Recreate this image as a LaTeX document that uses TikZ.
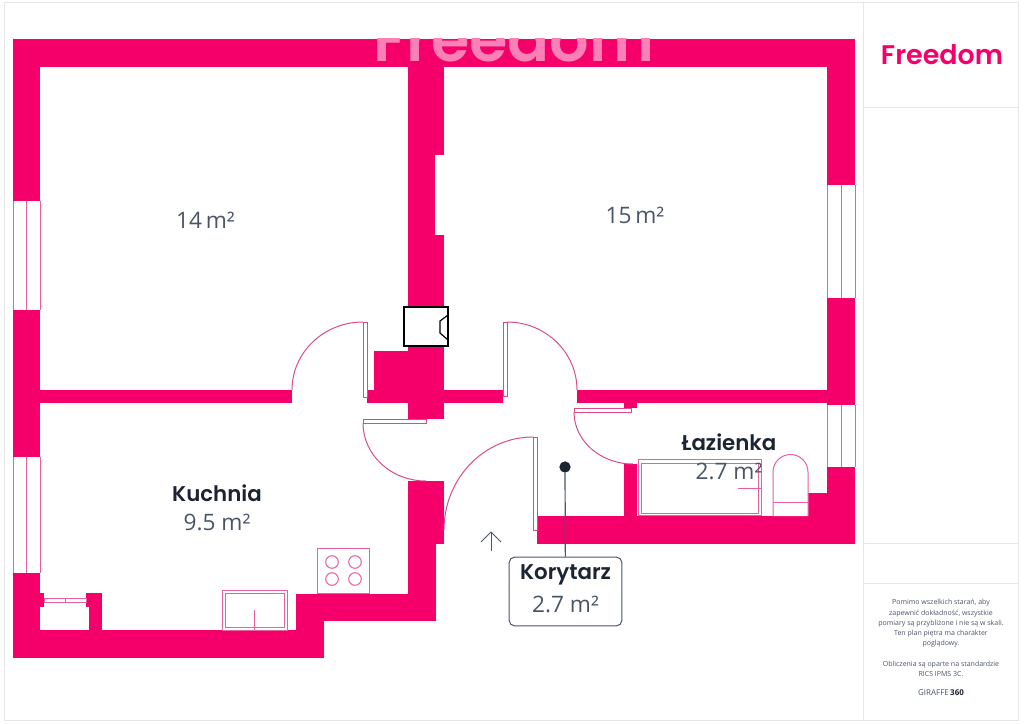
\documentclass[tikz,border=0pt]{standalone}
\usepackage{fontspec}
\setmainfont{Open Sans}
\newfontfamily\labelfont{Poppins}[BoldFont={Poppins SemiBold}]
\definecolor{wallpink}{HTML}{F5006A}
\definecolor{doorpink}{HTML}{D94C8C}
\definecolor{winpink}{HTML}{E8609F}
\definecolor{inkdark}{HTML}{1B2432}
\definecolor{inkgrey}{HTML}{4A5568}
\definecolor{framegrey}{HTML}{E6E6E6}
\tikzset{
    wall/.style={fill=wallpink},
    fixture/.style={draw=winpink, line width=0.75pt, fill=white},
    door/.style={draw=doorpink, line width=0.75pt},
    roomname/.style={font=\labelfont\bfseries\fontsize{16}{19}\selectfont, text=inkdark},
    roomarea/.style={font=\fontsize{17}{20}\selectfont, text=inkgrey},
    smallnote/.style={align=center, text=inkgrey, font=\fontsize{5.25}{7.7}\selectfont},
}
\begin{document}
\begin{tikzpicture}[x=0.75pt,y=0.75pt,yscale=-1]

    \useasboundingbox (0,0) rectangle (1024,724);
    \draw [framegrey, line width=0.75pt] (4,3) rectangle (1018,720);
    \draw [framegrey, line width=0.75pt] (863,3) -- (863,720);
    \draw [framegrey, line width=0.75pt] (863,107) -- (1018,107);
    \draw [framegrey, line width=0.75pt] (863,543) -- (1018,543);
    \draw [framegrey, line width=0.75pt] (863,583) -- (1018,583);

    \fill [wall] (13,39) rectangle (855,67);
    \fill [wall] (13,39) rectangle (40,201);
    \fill [wall] (13,310) rectangle (40,457);
    \fill [wall] (13,573) rectangle (40,658);
    \fill [wall] (13,630) rectangle (324,658);
    \fill [wall] (40,593) rectangle (44,607);
    \fill [wall] (86,593) rectangle (89,607);
    \fill [wall] (89,593) rectangle (102,630);
    \fill [wall] (296,594) rectangle (436,621);
    \fill [wall] (296,594) rectangle (324,658);
    \fill [wall] (408,544) rectangle (436,621);
    \fill [wall] (408,481) rectangle (444,544);
    \fill [wall] (408,67) rectangle (444,155);
    \fill [wall] (408,155) rectangle (435,235);
    \fill [wall] (408,235) rectangle (444,419);
    \fill [wall] (374,351) rectangle (408,403);
    \fill [wall] (40,390) rectangle (292,403);
    \fill [wall] (367,390) rectangle (408,403);
    \fill [wall] (444,390) rectangle (503,403);
    \fill [wall] (577,390) rectangle (855,403);
    \fill [wall] (624,403) rectangle (637,408);
    \fill [wall] (624,464) rectangle (637,516);
    \fill [wall] (537,516) rectangle (855,544);
    \fill [wall] (807,493) rectangle (855,516);
    \fill [wall] (827,67) rectangle (855,185);
    \fill [wall] (827,298) rectangle (855,405);
    \fill [wall] (827,467) rectangle (855,544);

    \begin{scope}
        \clip (13,39) rectangle (855,67);
        \draw (514,62) node [anchor=base, text=white!50!wallpink, font=\labelfont\bfseries\fontsize{46.5}{55}\selectfont] (watermark) {Freedom};
    \end{scope}

    \draw [fixture] (13,201) -- (13,310);
    \draw [fixture] (26.5,201) -- (26.5,310);
    \draw [fixture] (40,201) -- (40,310);
    \draw [fixture] (13,457) -- (13,573);
    \draw [fixture] (26.5,457) -- (26.5,573);
    \draw [fixture] (40,457) -- (40,573);
    \draw [fixture] (827,185) -- (827,298);
    \draw [fixture] (841,185) -- (841,298);
    \draw [fixture] (855,185) -- (855,298);
    \draw [fixture] (827,405) -- (827,467);
    \draw [fixture] (841,405) -- (841,467);
    \draw [fixture] (855,405) -- (855,467);
    \draw [fixture] (44,598) rectangle (86,602);
    \draw [fixture] (65,598) -- (65,602);

    \draw [fixture] (222,590) rectangle (287,630);
    \draw [fixture] (225,593) rectangle (284,627);
    \draw [fixture] (254.5,610) -- (254.5,630);
    \draw [fixture] (317,548) rectangle (369,593);
    \draw [fixture] (332,562) circle (6.3);
    \draw [fixture] (355,562) circle (6.3);
    \draw [fixture] (332,579) circle (6.3);
    \draw [fixture] (355,579) circle (6.3);

    \draw [fixture] (638,459) rectangle (761,515);
    \draw [fixture] (641,463) rectangle (758,513);
    \draw [fixture] (773,516) -- (773,472) arc (180:360:17.5) -- (808,516);
    \draw [fixture] (773,502) -- (808,502);

    \draw [door, fill=white] (363,322) rectangle (367,397);
    \draw [door] (363,322) arc (270:180:71 and 68);
    \draw [door, fill=white] (503,322) rectangle (507,396);
    \draw [door] (507,322) arc (270:360:70 and 68);
    \draw [door, fill=white] (363,419) rectangle (426,423);
    \draw [door] (363,423) arc (180:90:63 and 58);
    \draw [door, fill=white] (533,437) rectangle (537,530);
    \draw [door] (533,437) arc (270:180:89 and 93);
    \draw [door, fill=white] (574,408) rectangle (631,412);
    \draw [door] (574,412) arc (180:90:59 and 52);

    \draw [black, line width=1.1pt, fill=white] (404,307) rectangle (448,346);
    \draw [black, line width=0.9pt] (448,315) -- (440,321) -- (440,333) -- (448,340);

    \draw [inkgrey, line width=0.75pt] (491,551) -- (491,532);
    \draw [inkgrey, line width=0.75pt] (481,542) -- (491,532) -- (501,542);

    \draw (205.5,220) node [roomarea] (room14) {14\,m²};
    \draw (635,215) node [roomarea] (room15) {15\,m²};
    \draw (217,493) node [roomname] (kuchnia) {Kuchnia};
    \draw (217,522) node [roomarea] (kuchniaarea) {9.5 m²};
    \draw (729,442) node [roomname] (lazienka) {Łazienka};
    \draw (729,471) node [roomarea] (lazienkaarea) {2.7 m²};
    \draw [fixture] (738,488) -- (761,488);

    \draw (565,467) node [circle, fill=inkdark, inner sep=0pt, minimum size=8.5pt] (marker) {};
    \draw (565.5,591.5) node [draw=inkgrey, fill=white, rounded corners=4pt, line width=0.75pt, minimum width=84.5pt, minimum height=51.5pt, inner sep=0pt] (korytarzbox) {};
    \draw [inkgrey, line width=0.9pt] (marker) -- (korytarzbox);
    \draw (565.5,575) node [roomname] (korytarz) {Korytarz};
    \draw (565.5,604) node [roomarea] (korytarzarea) {2.7 m²};

    \draw (942,55) node [text=wallpink, font=\labelfont\bfseries\fontsize{20.2}{24}\selectfont] (logo) {Freedom};
    \draw (941,623.5) node [smallnote] (disclaimer) {Pomimo wszelkich starań, aby\\zapewnić dokładność, wszystkie\\pomiary są przybliżone i nie są w skali.\\Ten plan piętra ma charakter\\poglądowy.};
    \draw (941,669) node [smallnote] (standard) {Obliczenia są oparte na standardzie\\RICS IPMS 3C.};
    \draw (941,693) node [text=inkgrey, font=\fontsize{6}{8}\selectfont] (giraffe) {GIRAFFE\,\textbf{\textcolor{inkdark}{360}}};

\end{tikzpicture}
\end{document}
